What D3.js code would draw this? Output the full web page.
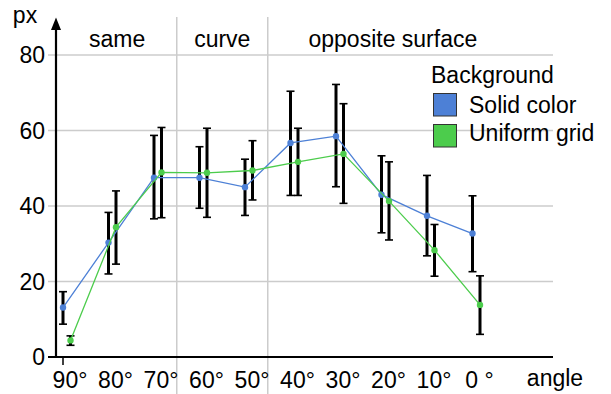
<!DOCTYPE html>
<html>
<head>
<meta charset="utf-8">
<script src="https://cdn.jsdelivr.net/npm/d3@7"></script>
<style>
  html, body { margin: 0; padding: 0; background: #fff; }
  svg { display: block; }
  text { font-family: "Liberation Sans", Arial, Helvetica, sans-serif; fill: #000; }
</style>
</head>
<body>
<svg id="chart" width="611" height="394"></svg>
<script>
// ---- data ----
const categories = ["90°", "80°", "70°", "60°", "50°", "40°", "30°", "20°", "10°", "0 °"];
const solidMean = [13.1, 30.3, 47.5, 47.5, 45.0, 56.7, 58.5, 43.0, 37.4, 32.7];
const solidHigh = [17.3, 38.3, 58.7, 55.7, 52.4, 70.4, 72.2, 53.3, 48.1, 42.7];
const solidLow  = [8.7, 22.0, 36.6, 39.4, 37.5, 42.8, 45.1, 32.9, 26.8, 22.6];
const gridMean  = [4.4, 34.4, 48.9, 48.8, 49.4, 51.7, 53.8, 41.3, 28.3, 13.8];
const gridHigh  = [5.6, 44.0, 60.8, 60.6, 57.3, 60.6, 67.1, 51.7, 35.1, 21.5];
const gridLow   = [3.1, 24.6, 36.9, 37.0, 41.6, 42.8, 40.7, 31.0, 21.4, 6.0];
const yTicks = [0, 20, 40, 60, 80];
const seriesNames = ["Solid color", "Uniform grid"];
const groupLabels = ["same", "curve", "opposite surface"];
const groupCenters = [1.19, 3.5, 7.25];   // in category-index units
const groupDividers = [2.5, 4.5];         // between 70°/60° and 50°/40°

// ---- layout ----
const svg = d3.select("#chart");
const colors = ["#4d80d6", "#4ccc4c"];
const seriesOffset = [0, 7.5];
const x = d3.scalePoint().domain(categories).range([63, 472.5]);
const xi = d3.scaleLinear().domain([0, categories.length - 1]).range([63, 472.5]);
const y = d3.scaleLinear().domain([0, 80]).range([357, 55]);
const axisLeft = 56, axisRight = 553, gridLeft = 48;

// horizontal gridlines
svg.append("g").selectAll("line").data(yTicks.filter(d => d > 0)).join("line")
  .attr("x1", gridLeft).attr("x2", axisRight)
  .attr("y1", d => y(d)).attr("y2", d => y(d))
  .attr("stroke", "#cccccc").attr("stroke-width", 1.5);

// vertical group dividers
svg.append("g").selectAll("line").data(groupDividers).join("line")
  .attr("x1", d => xi(d)).attr("x2", d => xi(d))
  .attr("y1", 17).attr("y2", 394)
  .attr("stroke", "#cccccc").attr("stroke-width", 1.5);

// y tick labels
svg.append("g").selectAll("text").data(yTicks).join("text")
  .attr("x", 45).attr("y", d => y(d) + 8)
  .attr("text-anchor", "end").attr("font-size", 23)
  .text(d => d);

// x tick labels
svg.append("g").selectAll("text").data(categories).join("text")
  .attr("x", d => x(d) + 7).attr("y", 388)
  .attr("text-anchor", "middle").attr("font-size", 23)
  .text(d => d);

// small tick under first category
svg.append("line")
  .attr("x1", x(categories[0])).attr("x2", x(categories[0]))
  .attr("y1", 357).attr("y2", 365)
  .attr("stroke", "#000").attr("stroke-width", 1.5);

// axes
svg.append("line").attr("x1", gridLeft).attr("x2", axisRight)
  .attr("y1", y(0)).attr("y2", y(0))
  .attr("stroke", "#000").attr("stroke-width", 2.2);
svg.append("line").attr("x1", axisLeft).attr("x2", axisLeft)
  .attr("y1", y(0) + 1).attr("y2", 28)
  .attr("stroke", "#000").attr("stroke-width", 2.2);
svg.append("path")
  .attr("d", `M${axisLeft},17.5 L${axisLeft - 5},30 L${axisLeft + 5},30 Z`)
  .attr("fill", "#000");

// axis titles
svg.append("text").attr("x", 25).attr("y", 23).attr("text-anchor", "middle")
  .attr("font-size", 23).text("px");
svg.append("text").attr("x", 555).attr("y", 386).attr("text-anchor", "middle")
  .attr("font-size", 23).text("angle");

// group labels
svg.append("g").selectAll("text").data(groupLabels).join("text")
  .attr("x", (d, i) => xi(groupCenters[i])).attr("y", 47)
  .attr("text-anchor", "middle").attr("font-size", 23)
  .text(d => d);

// series
const series = [
  { mean: solidMean, hi: solidHigh, lo: solidLow },
  { mean: gridMean, hi: gridHigh, lo: gridLow }
];

series.forEach((s, si) => {
  const g = svg.append("g");
  const px = i => x(categories[i]) + seriesOffset[si];
  // error bars
  const eb = g.append("g").selectAll("g").data(categories).join("g");
  eb.append("line")
    .attr("x1", (d, i) => px(i)).attr("x2", (d, i) => px(i))
    .attr("y1", (d, i) => y(s.hi[i])).attr("y2", (d, i) => y(s.lo[i]))
    .attr("stroke", "#000").attr("stroke-width", 3);
  ["hi", "lo"].forEach(k => {
    eb.append("line")
      .attr("x1", (d, i) => px(i) - 4).attr("x2", (d, i) => px(i) + 4)
      .attr("y1", (d, i) => y(s[k][i])).attr("y2", (d, i) => y(s[k][i]))
      .attr("stroke", "#000").attr("stroke-width", 1.6);
  });
});

series.forEach((s, si) => {
  const px = i => x(categories[i]) + seriesOffset[si];
  const line = d3.line().x((d, i) => px(i)).y(d => y(d));
  svg.append("path").datum(s.mean)
    .attr("d", line).attr("fill", "none")
    .attr("stroke", colors[si]).attr("stroke-width", 1.3);
  svg.append("g").selectAll("circle").data(s.mean).join("circle")
    .attr("cx", (d, i) => px(i)).attr("cy", d => y(d)).attr("r", 3.2)
    .attr("fill", colors[si]);
});

// legend
const lg = svg.append("g");
lg.append("text").attr("x", 431).attr("y", 83).attr("font-size", 23).text("Background");
seriesNames.forEach((n, i) => {
  lg.append("rect").attr("x", 433.5).attr("y", 93.5 + i * 31).attr("width", 23).attr("height", 22.5)
    .attr("fill", colors[i]).attr("stroke", "#333").attr("stroke-width", 1);
  lg.append("text").attr("x", 469).attr("y", 113 + i * 28).attr("font-size", 23).text(n);
});
</script>
</body>
</html>
